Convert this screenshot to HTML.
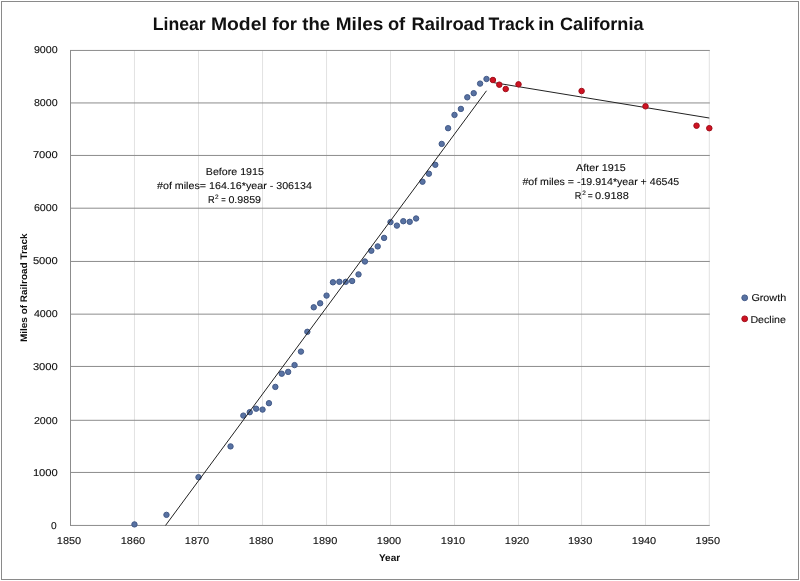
<!DOCTYPE html><html><head><meta charset="utf-8"><title>Linear Model for the Miles of Railroad Track in California</title>
<style>html,body{margin:0;padding:0;background:#fff;overflow:hidden;}svg{display:block;font-family:"Liberation Sans",sans-serif;will-change:transform;}</style></head><body>
<svg width="800" height="581" viewBox="0 0 800 581" text-rendering="geometricPrecision">
<rect x="0" y="0" width="800" height="581" fill="#fff"/>
<rect x="1.5" y="1.5" width="797" height="578" fill="none" stroke="#8a8a8a" stroke-width="1"/>
<g stroke="#e2e2e2" stroke-width="1">
<line x1="134.45" y1="50" x2="134.45" y2="525" />
<line x1="198.50" y1="50" x2="198.50" y2="525" />
<line x1="262.55" y1="50" x2="262.55" y2="525" />
<line x1="326.55" y1="50" x2="326.55" y2="525" />
<line x1="390.50" y1="50" x2="390.50" y2="525" />
<line x1="454.50" y1="50" x2="454.50" y2="525" />
<line x1="518.50" y1="50" x2="518.50" y2="525" />
<line x1="581.60" y1="50" x2="581.60" y2="525" />
<line x1="645.50" y1="50" x2="645.50" y2="525" />
<line x1="709.30" y1="50" x2="709.30" y2="525" />
</g><g stroke="#8c8c8c" stroke-width="1">
<line x1="70" y1="472.45" x2="709.8" y2="472.45"/>
<line x1="70" y1="420.30" x2="709.8" y2="420.30"/>
<line x1="70" y1="366.45" x2="709.8" y2="366.45"/>
<line x1="70" y1="314.15" x2="709.8" y2="314.15"/>
<line x1="70" y1="261.45" x2="709.8" y2="261.45"/>
<line x1="70" y1="208.20" x2="709.8" y2="208.20"/>
<line x1="70" y1="155.45" x2="709.8" y2="155.45"/>
<line x1="70" y1="102.95" x2="709.8" y2="102.95"/>
<line x1="70" y1="50.45" x2="709.8" y2="50.45"/>
<line x1="70.5" y1="50" x2="70.5" y2="526"/>
<line x1="70" y1="525.45" x2="709.8" y2="525.45"/>
</g>
<g fill="#5872a2" stroke="#435a88" stroke-width="1">
<circle cx="134.45" cy="524.40" r="2.7"/>
<circle cx="166.47" cy="514.85" r="2.7"/>
<circle cx="198.50" cy="477.20" r="2.7"/>
<circle cx="230.53" cy="446.40" r="2.7"/>
<circle cx="243.34" cy="415.60" r="2.7"/>
<circle cx="249.74" cy="412.20" r="2.7"/>
<circle cx="256.14" cy="408.70" r="2.7"/>
<circle cx="262.55" cy="409.60" r="2.7"/>
<circle cx="268.95" cy="403.20" r="2.7"/>
<circle cx="275.35" cy="386.90" r="2.7"/>
<circle cx="281.75" cy="373.70" r="2.7"/>
<circle cx="288.15" cy="371.90" r="2.7"/>
<circle cx="294.55" cy="365.10" r="2.7"/>
<circle cx="300.95" cy="351.60" r="2.7"/>
<circle cx="307.35" cy="331.80" r="2.7"/>
<circle cx="313.75" cy="307.30" r="2.7"/>
<circle cx="320.15" cy="303.30" r="2.7"/>
<circle cx="326.55" cy="295.60" r="2.7"/>
<circle cx="332.94" cy="282.30" r="2.7"/>
<circle cx="339.34" cy="281.80" r="2.7"/>
<circle cx="345.74" cy="281.80" r="2.7"/>
<circle cx="352.13" cy="281.00" r="2.7"/>
<circle cx="358.52" cy="274.40" r="2.7"/>
<circle cx="364.92" cy="261.50" r="2.7"/>
<circle cx="371.31" cy="250.70" r="2.7"/>
<circle cx="377.71" cy="246.40" r="2.7"/>
<circle cx="384.11" cy="237.90" r="2.7"/>
<circle cx="390.50" cy="222.10" r="2.7"/>
<circle cx="396.90" cy="225.60" r="2.7"/>
<circle cx="403.30" cy="221.20" r="2.7"/>
<circle cx="409.70" cy="221.80" r="2.7"/>
<circle cx="416.10" cy="218.50" r="2.7"/>
<circle cx="422.50" cy="181.70" r="2.7"/>
<circle cx="428.90" cy="173.70" r="2.7"/>
<circle cx="435.30" cy="164.80" r="2.7"/>
<circle cx="441.70" cy="143.90" r="2.7"/>
<circle cx="448.10" cy="128.20" r="2.7"/>
<circle cx="454.50" cy="114.90" r="2.7"/>
<circle cx="460.90" cy="108.90" r="2.7"/>
<circle cx="467.30" cy="97.30" r="2.7"/>
<circle cx="473.70" cy="93.20" r="2.7"/>
<circle cx="480.10" cy="83.60" r="2.7"/>
<circle cx="486.50" cy="79.00" r="2.7"/>
</g>
<g stroke="#222" stroke-width="1" fill="none">
<line x1="165.52" y1="525.45" x2="486.50" y2="90.75"/>
<line x1="492.90" y1="82.49" x2="709.30" y2="118.03"/>
</g>
<g fill="#cf1222" stroke="#a00e1a" stroke-width="1">
<circle cx="492.90" cy="80.00" r="2.75"/>
<circle cx="499.30" cy="84.70" r="2.75"/>
<circle cx="505.70" cy="89.00" r="2.75"/>
<circle cx="518.50" cy="84.35" r="2.75"/>
<circle cx="581.60" cy="91.00" r="2.75"/>
<circle cx="645.50" cy="106.30" r="2.75"/>
<circle cx="696.54" cy="125.70" r="2.75"/>
<circle cx="709.30" cy="128.20" r="2.75"/>
</g>
<g font-size="10" fill="#0d0d0d" stroke="#0d0d0d" stroke-width="0.1">
<text x="51.00" y="528.90" textLength="5.68" lengthAdjust="spacingAndGlyphs">0</text>
<text x="32.90" y="475.81" textLength="24.92" lengthAdjust="spacingAndGlyphs">1000</text>
<text x="33.90" y="423.56" textLength="23.79" lengthAdjust="spacingAndGlyphs">2000</text>
<text x="32.90" y="369.62" textLength="24.92" lengthAdjust="spacingAndGlyphs">3000</text>
<text x="33.90" y="317.22" textLength="23.79" lengthAdjust="spacingAndGlyphs">4000</text>
<text x="32.90" y="264.43" textLength="24.92" lengthAdjust="spacingAndGlyphs">5000</text>
<text x="33.90" y="211.08" textLength="23.79" lengthAdjust="spacingAndGlyphs">6000</text>
<text x="32.90" y="158.24" textLength="24.92" lengthAdjust="spacingAndGlyphs">7000</text>
<text x="33.90" y="105.64" textLength="23.79" lengthAdjust="spacingAndGlyphs">8000</text>
<text x="33.90" y="53.05" textLength="23.79" lengthAdjust="spacingAndGlyphs">9000</text>
<text x="56.80" y="544.00" textLength="24.40" lengthAdjust="spacingAndGlyphs">1850</text>
<text x="120.75" y="544.00" textLength="24.40" lengthAdjust="spacingAndGlyphs">1860</text>
<text x="184.80" y="544.00" textLength="24.40" lengthAdjust="spacingAndGlyphs">1870</text>
<text x="248.85" y="544.00" textLength="24.40" lengthAdjust="spacingAndGlyphs">1880</text>
<text x="312.85" y="544.00" textLength="24.40" lengthAdjust="spacingAndGlyphs">1890</text>
<text x="376.80" y="544.00" textLength="24.40" lengthAdjust="spacingAndGlyphs">1900</text>
<text x="440.80" y="544.00" textLength="24.40" lengthAdjust="spacingAndGlyphs">1910</text>
<text x="504.80" y="544.00" textLength="24.40" lengthAdjust="spacingAndGlyphs">1920</text>
<text x="567.90" y="544.00" textLength="24.40" lengthAdjust="spacingAndGlyphs">1930</text>
<text x="631.80" y="544.00" textLength="24.40" lengthAdjust="spacingAndGlyphs">1940</text>
<text x="695.60" y="544.00" textLength="24.40" lengthAdjust="spacingAndGlyphs">1950</text>
</g>
<g font-size="10" font-weight="bold" fill="#0d0d0d">
<text x="379.00" y="561.00" textLength="21.16" lengthAdjust="spacingAndGlyphs">Year</text>
</g>
<text transform="translate(0,400) rotate(-90)" x="58.00" y="27" font-size="9.5" font-weight="bold" fill="#0d0d0d" textLength="108.49" lengthAdjust="spacingAndGlyphs">Miles of Railroad Track</text>
<g font-size="18" font-weight="bold" fill="#111">
<text x="152.70" y="30.00" textLength="53.02" lengthAdjust="spacingAndGlyphs">Linear</text>
<text x="210.90" y="30.00" textLength="55.91" lengthAdjust="spacingAndGlyphs">Model</text>
<text x="272.25" y="30.00" textLength="24.77" lengthAdjust="spacingAndGlyphs">for</text>
<text x="302.30" y="30.00" textLength="27.78" lengthAdjust="spacingAndGlyphs">the</text>
<text x="335.75" y="30.00" textLength="47.67" lengthAdjust="spacingAndGlyphs">Miles</text>
<text x="387.90" y="30.00" textLength="17.28" lengthAdjust="spacingAndGlyphs">of</text>
<text x="411.50" y="30.00" textLength="73.58" lengthAdjust="spacingAndGlyphs">Railroad</text>
<text x="488.40" y="30.00" textLength="46.06" lengthAdjust="spacingAndGlyphs">Track</text>
<text x="538.30" y="30.00" textLength="16.03" lengthAdjust="spacingAndGlyphs">in</text>
<text x="560.00" y="30.00" textLength="83.53" lengthAdjust="spacingAndGlyphs">California</text>
</g>
<g font-size="10" fill="#0d0d0d" stroke="#0d0d0d" stroke-width="0.1">
<text x="205.80" y="175.20" textLength="58.10" lengthAdjust="spacingAndGlyphs">Before 1915</text>
<text x="157.00" y="188.90" textLength="154.89" lengthAdjust="spacingAndGlyphs">#of miles= 164.16*year - 306134</text>
<text x="208.10" y="202.90" textLength="6.66" lengthAdjust="spacingAndGlyphs">R</text>
<text x="214.9" y="198.9" font-size="6.5">2</text>
<text x="221.30" y="202.90" textLength="4.49" lengthAdjust="spacingAndGlyphs">=</text>
<text x="228.40" y="202.90" textLength="32.65" lengthAdjust="spacingAndGlyphs">0.9859</text>
<text x="576.00" y="170.90" textLength="49.69" lengthAdjust="spacingAndGlyphs">After 1915</text>
<text x="522.40" y="184.90" textLength="156.89" lengthAdjust="spacingAndGlyphs">#of miles = -19.914*year + 46545</text>
<text x="574.70" y="198.90" textLength="6.66" lengthAdjust="spacingAndGlyphs">R</text>
<text x="582.2" y="195.4" font-size="6.5">2</text>
<text x="587.70" y="198.90" textLength="4.96" lengthAdjust="spacingAndGlyphs">=</text>
<text x="595.10" y="198.90" textLength="33.67" lengthAdjust="spacingAndGlyphs">0.9188</text>
<text x="751.40" y="301.40" textLength="34.77" lengthAdjust="spacingAndGlyphs">Growth</text>
<text x="750.40" y="322.60" textLength="35.46" lengthAdjust="spacingAndGlyphs">Decline</text>
</g>
<circle cx="744.7" cy="297.8" r="2.9" fill="#5872a2" stroke="#435a88" stroke-width="1"/>
<circle cx="744.7" cy="318.8" r="2.9" fill="#cf1222" stroke="#a00e1a" stroke-width="1"/>
</svg></body></html>
